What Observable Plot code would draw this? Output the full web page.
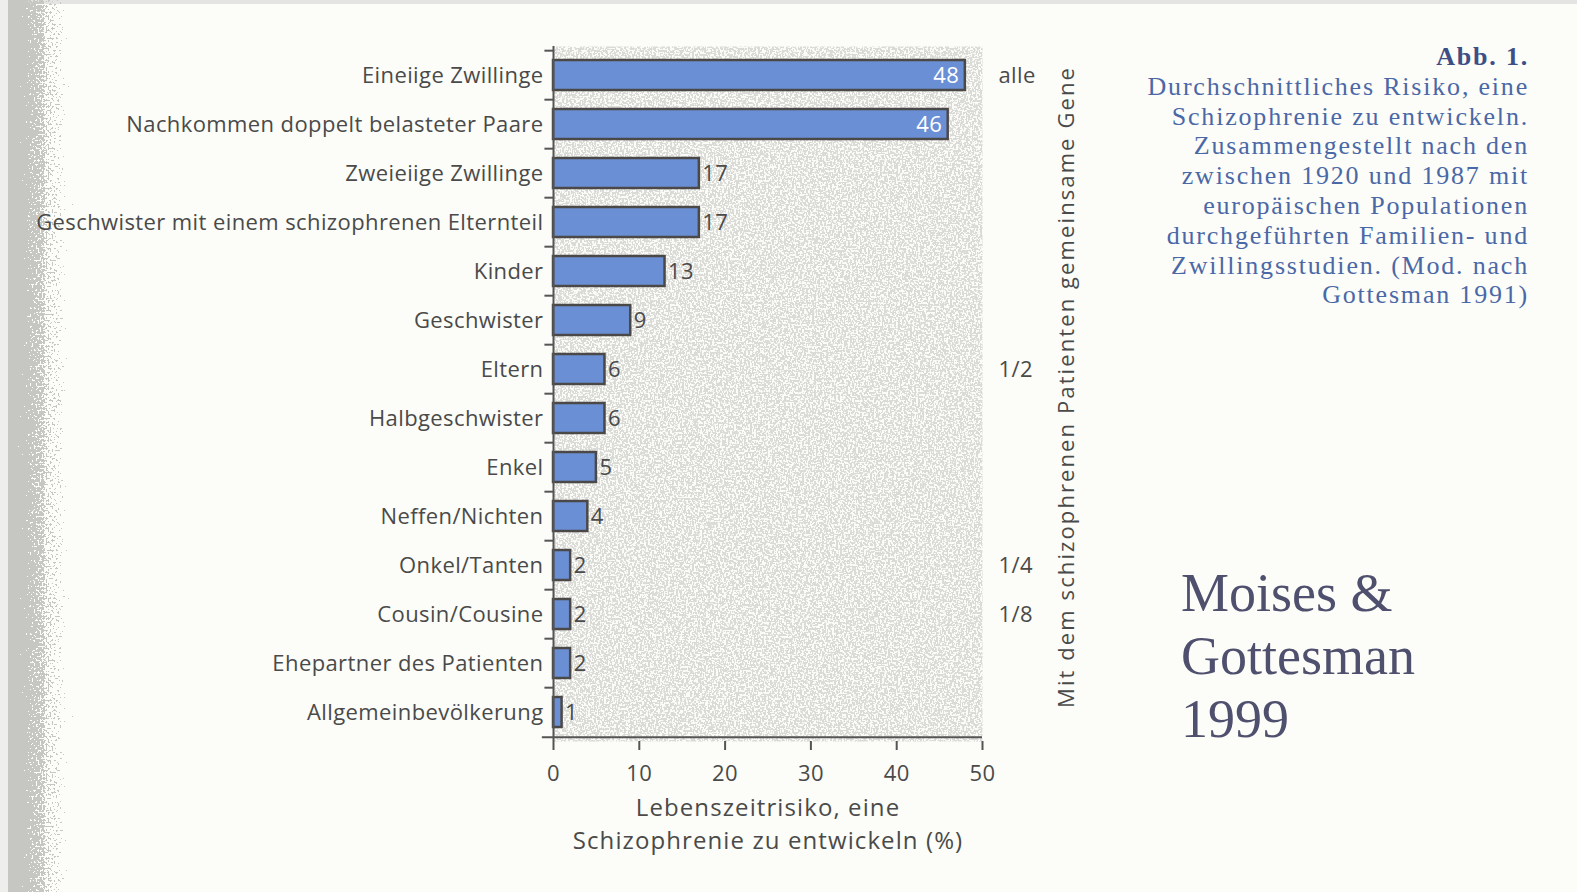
<!DOCTYPE html>
<html><head><meta charset="utf-8">
<script src="https://cdn.jsdelivr.net/npm/d3@7"></script>
<script src="https://cdn.jsdelivr.net/npm/@observablehq/plot@0.6"></script>
<style>
html,body{margin:0;padding:0;background:#fcfdf8;width:1577px;height:892px;overflow:hidden;}
#topband{position:absolute;left:0;top:0;width:1577px;height:4px;background:#e4e4e2;}
#edge{position:absolute;left:0;top:0;}
#chart{position:absolute;left:0;top:0;}
#caption{position:absolute;right:48px;top:42px;font-family:"Liberation Serif",serif;font-size:26px;letter-spacing:1.8px;line-height:29.8px;color:#4b68a6;text-align:right;white-space:nowrap;}
#caption b{color:#3e4f86;}
#credit{position:absolute;left:1181px;top:562px;font-family:"Liberation Serif",serif;font-size:54px;line-height:63px;color:#4f4f6e;white-space:nowrap;}
</style></head>
<body>
<div id="topband"></div>
<svg id="edge" width="130" height="892">
  <defs>
    <filter id="rag" x="-50%" y="0" width="200%" height="100%">
      <feTurbulence type="fractalNoise" baseFrequency="0.5" numOctaves="3" seed="7" result="t"/>
      <feDisplacementMap in="SourceGraphic" in2="t" scale="85" xChannelSelector="R" yChannelSelector="G"/>
    </filter>
    <filter id="stipple" x="0" y="0" width="100%" height="100%">
      <feTurbulence type="fractalNoise" baseFrequency="0.5" numOctaves="3" seed="3" result="noise"/>
      <feColorMatrix in="noise" type="matrix" values="0 0 0 0 0.70  0 0 0 0 0.70  0 0 0 0 0.68  16 0 0 0 -7.1" result="dots"/>
      <feFlood flood-color="#fbfbf8" result="bg"/>
      <feComposite in="dots" in2="bg" operator="over" result="comb"/>
      <feComposite in="comb" in2="SourceGraphic" operator="in"/>
    </filter>
  </defs>
  <rect x="-30" y="-20" width="75" height="940" fill="#c6c7c2" filter="url(#rag)"/>
  <rect x="0" y="0" width="8" height="892" fill="#eeeeec"/>
</svg>
<div id="chart"></div>
<div id="caption"><b>Abb. 1.</b><br>Durchschnittliches Risiko, eine<br>Schizophrenie zu entwickeln.<br>Zusammengestellt nach den<br>zwischen 1920 und 1987 mit<br>europäischen Populationen<br>durchgeführten Familien- und<br>Zwillingsstudien. (Mod. nach<br>Gottesman 1991)</div>
<div id="credit">Moises &amp;<br>Gottesman<br>1999</div>
<script>
const categories = [
  "Eineiige Zwillinge",
  "Nachkommen doppelt belasteter Paare",
  "Zweieiige Zwillinge",
  "Geschwister mit einem schizophrenen Elternteil",
  "Kinder",
  "Geschwister",
  "Eltern",
  "Halbgeschwister",
  "Enkel",
  "Neffen/Nichten",
  "Onkel/Tanten",
  "Cousin/Cousine",
  "Ehepartner des Patienten",
  "Allgemeinbevölkerung"
];
const values = [48, 46, 17, 17, 13, 9, 6, 6, 5, 4, 2, 2, 2, 1];
const shareLabels = ["alle", "1/2", "1/4", "1/8"];
const shareRows = ["Eineiige Zwillinge", "Eltern", "Onkel/Tanten", "Cousin/Cousine"];
const xTicks = [0, 10, 20, 30, 40, 50];
const xLabel = "Lebenszeitrisiko, eine\nSchizophrenie zu entwickeln (%)";
const sideLabel = "Mit dem schizophrenen Patienten gemeinsame Gene";

const rows = categories.map((name, i) => ({name, value: values[i]}));
const shares = shareLabels.map((label, i) => ({label, name: shareRows[i]}));

const W = 1577, H = 892, mL = 553, mR = 595, mT = 46, mB = 151;
const step = (H - mT - mB) / categories.length;
const ink = "#4a4a4a", axisInk = "#555";

const chart = Plot.plot({
  width: W, height: H,
  marginLeft: mL, marginRight: mR, marginTop: mT, marginBottom: mB,
  style: {background: "transparent", fontFamily: "'Open Sans', sans-serif", fontSize: "22px", color: ink, overflow: "visible"},
  x: {domain: [0, 50], ticks: xTicks, label: null},
  y: {domain: categories, paddingInner: 0.38, paddingOuter: 0.19, label: null},
  marks: [
    Plot.frame({fill: "#ffffff", stroke: null}),
    Plot.barX(rows, {x: "value", y: "name", fill: "#6b8fd4", stroke: "#4b4848", strokeWidth: 2.5}),
    Plot.ruleX([0], {stroke: axisInk, strokeWidth: 2}),
    Plot.ruleY(categories, {y: d => d, x1: -1.0, x2: 0, dy: -step / 2, stroke: axisInk, strokeWidth: 2}),
    Plot.ruleY([categories[categories.length - 1]], {y: d => d, x1: -1.3, x2: 50, dy: step / 2, stroke: axisInk, strokeWidth: 2}),
    Plot.axisX({ticks: xTicks, tickSize: 9, tickPadding: 15, strokeWidth: 2, stroke: axisInk, fill: ink, fontSize: 22, label: null}),
    Plot.axisY({tickSize: 0, tickPadding: 10, fill: ink, fontSize: 22, label: null}),
    Plot.text(rows.filter(d => d.value >= 40), {x: "value", y: "name", text: d => String(d.value), textAnchor: "end", dx: -6, fill: "#ffffff", fontSize: 22}),
    Plot.text(rows.filter(d => d.value < 40), {x: "value", y: "name", text: d => String(d.value), textAnchor: "start", dx: 3, fill: ink, fontSize: 22}),
    Plot.text(shares, {y: "name", text: "label", frameAnchor: "right", textAnchor: "start", dx: 16, fill: ink, fontSize: 22}),
    Plot.text([sideLabel], {frameAnchor: "right", textAnchor: "middle", rotate: -90, dx: 84, dy: -7, fill: ink, fontSize: 22}),
    Plot.text([xLabel], {frameAnchor: "bottom", lineAnchor: "middle", dy: 80, lineHeight: 1.38, fill: ink, fontSize: 24})
  ]
});
document.getElementById("chart").appendChild(chart);
const svg = d3.select(chart);
svg.selectAll('[aria-label="frame"]').attr("filter", "url(#stipple)");
svg.selectAll("text").style("letter-spacing", "0.4px");
svg.selectAll("text").filter(function() { return this.textContent === sideLabel; }).style("letter-spacing", "2.1px");
svg.selectAll("text").filter(function() { return this.textContent === xLabel.replace("\n", ""); }).style("letter-spacing", "1.1px");
</script>
</body></html>
